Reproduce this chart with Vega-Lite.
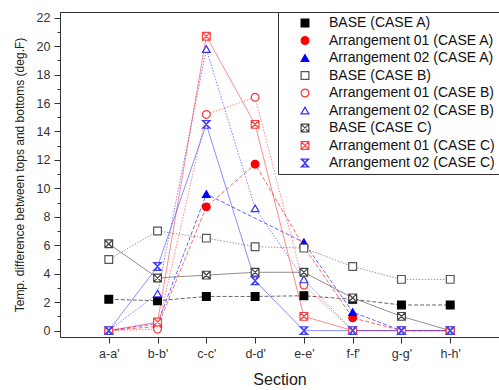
{
  "$schema": "https://vega.github.io/schema/vega-lite/v6.json",
  "width": 439,
  "height": 325,
  "autosize": "none",
  "padding": {"left": 60, "top": 12, "right": 0, "bottom": 53},
  "background": "white",
  "data": {
    "values": [
      {"section": "a-a'", "BASE (CASE A)": 2.2, "Arrangement 01 (CASE A)": 0.0, "Arrangement 02 (CASE A)": 0.0, "BASE (CASE B)": 5.0, "Arrangement 01 (CASE B)": 0.0, "Arrangement 02 (CASE B)": 0.0, "BASE (CASE C)": 6.1, "Arrangement 01 (CASE C)": 0.0, "Arrangement 02 (CASE C)": 0.0},
      {"section": "b-b'", "BASE (CASE A)": 2.1, "Arrangement 01 (CASE A)": 0.3, "Arrangement 02 (CASE A)": 0.5, "BASE (CASE B)": 7.0, "Arrangement 01 (CASE B)": 0.1, "Arrangement 02 (CASE B)": 2.6, "BASE (CASE C)": 3.7, "Arrangement 01 (CASE C)": 0.6, "Arrangement 02 (CASE C)": 4.5},
      {"section": "c-c'", "BASE (CASE A)": 2.4, "Arrangement 01 (CASE A)": 8.7, "Arrangement 02 (CASE A)": 9.6, "BASE (CASE B)": 6.5, "Arrangement 01 (CASE B)": 15.2, "Arrangement 02 (CASE B)": 19.8, "BASE (CASE C)": 3.9, "Arrangement 01 (CASE C)": 20.7, "Arrangement 02 (CASE C)": 14.5},
      {"section": "d-d'", "BASE (CASE A)": 2.4, "Arrangement 01 (CASE A)": 11.7, "Arrangement 02 (CASE A)": null, "BASE (CASE B)": 5.9, "Arrangement 01 (CASE B)": 16.4, "Arrangement 02 (CASE B)": 8.6, "BASE (CASE C)": 4.1, "Arrangement 01 (CASE C)": 14.5, "Arrangement 02 (CASE C)": 3.5},
      {"section": "e-e'", "BASE (CASE A)": 2.45, "Arrangement 01 (CASE A)": 5.9, "Arrangement 02 (CASE A)": 6.2, "BASE (CASE B)": 5.8, "Arrangement 01 (CASE B)": 3.2, "Arrangement 02 (CASE B)": 3.6, "BASE (CASE C)": 4.1, "Arrangement 01 (CASE C)": 1.0, "Arrangement 02 (CASE C)": 0.0},
      {"section": "f-f'", "BASE (CASE A)": 2.2, "Arrangement 01 (CASE A)": 0.9, "Arrangement 02 (CASE A)": 1.3, "BASE (CASE B)": 4.5, "Arrangement 01 (CASE B)": 0.0, "Arrangement 02 (CASE B)": 0.0, "BASE (CASE C)": 2.3, "Arrangement 01 (CASE C)": 0.0, "Arrangement 02 (CASE C)": 0.0},
      {"section": "g-g'", "BASE (CASE A)": 1.8, "Arrangement 01 (CASE A)": 0.0, "Arrangement 02 (CASE A)": 0.0, "BASE (CASE B)": 3.6, "Arrangement 01 (CASE B)": 0.0, "Arrangement 02 (CASE B)": 0.0, "BASE (CASE C)": 1.0, "Arrangement 01 (CASE C)": 0.0, "Arrangement 02 (CASE C)": 0.0},
      {"section": "h-h'", "BASE (CASE A)": 1.8, "Arrangement 01 (CASE A)": 0.0, "Arrangement 02 (CASE A)": 0.0, "BASE (CASE B)": 3.6, "Arrangement 01 (CASE B)": 0.0, "Arrangement 02 (CASE B)": 0.0, "BASE (CASE C)": 0.0, "Arrangement 01 (CASE C)": 0.0, "Arrangement 02 (CASE C)": 0.0}
    ]
  },
  "transform": [
    {"fold": ["BASE (CASE A)", "Arrangement 01 (CASE A)", "Arrangement 02 (CASE A)", "BASE (CASE B)", "Arrangement 01 (CASE B)", "Arrangement 02 (CASE B)", "BASE (CASE C)", "Arrangement 01 (CASE C)", "Arrangement 02 (CASE C)"], "as": ["series", "value"]},
    {"filter": "isValid(datum.value)"}
  ],
  "encoding": {
    "x": {
      "field": "section", "type": "ordinal",
      "sort": ["a-a'", "b-b'", "c-c'", "d-d'", "e-e'", "f-f'", "g-g'", "h-h'"],
      "scale": {"type": "point", "padding": 1},
      "axis": {"title": "Section", "labelAngle": 0, "tickSize": 6, "labelPadding": 4, "labelFontSize": 12.5, "titleFontSize": 16, "titleFontWeight": "normal", "titlePadding": 12, "grid": false}
    },
    "y": {
      "field": "value", "type": "quantitative",
      "scale": {"domain": [-0.45, 22.4], "nice": false, "zero": false},
      "axis": {
        "title": "Temp. difference between tops and bottoms (deg.F)",
        "values": [0,1,2,3,4,5,6,7,8,9,10,11,12,13,14,15,16,17,18,19,20,21,22],
        "labelExpr": "datum.value % 2 === 0 ? datum.label : ''",
        "tickSize": {"condition": {"test": "datum.value % 2 === 0", "value": 6}, "value": 3},
        "labelPadding": 4, "labelFontSize": 12.5, "titleFontSize": 12, "titleFontWeight": "normal", "titlePadding": 10, "grid": false
      }
    },
    "stroke": {
      "field": "series", "type": "nominal", "legend": {"title": null},
      "scale": {
        "domain": ["BASE (CASE A)", "Arrangement 01 (CASE A)", "Arrangement 02 (CASE A)", "BASE (CASE B)", "Arrangement 01 (CASE B)", "Arrangement 02 (CASE B)", "BASE (CASE C)", "Arrangement 01 (CASE C)", "Arrangement 02 (CASE C)"],
        "range": ["#000000", "#ff0000", "#0000ff", "#555555", "#ff3030", "#3030ff", "#444444", "#ff4040", "#4040ff"]
      }
    }
  },
  "layer": [
    {
      "transform": [{"filter": "indexof(datum.series, 'CASE A') >= 0"}],
      "mark": {"type": "line", "strokeWidth": 1, "opacity": 0.6, "strokeDash": [4, 2]},
      "encoding": {}
    },
    {
      "transform": [{"filter": "indexof(datum.series, 'CASE B') >= 0"}],
      "mark": {"type": "line", "strokeWidth": 1, "opacity": 0.6, "strokeDash": [1.5, 1.5]},
      "encoding": {}
    },
    {
      "transform": [{"filter": "indexof(datum.series, 'CASE C') >= 0"}],
      "mark": {"type": "line", "strokeWidth": 1, "opacity": 0.6},
      "encoding": {}
    },
    {
      "mark": {"type": "point", "size": 60, "strokeWidth": 1.2, "opacity": 1, "filled": true},
      "encoding": {
        "fill": {
          "field": "series", "type": "nominal", "legend": {"title": null},
          "scale": {
            "domain": ["BASE (CASE A)", "Arrangement 01 (CASE A)", "Arrangement 02 (CASE A)", "BASE (CASE B)", "Arrangement 01 (CASE B)", "Arrangement 02 (CASE B)", "BASE (CASE C)", "Arrangement 01 (CASE C)", "Arrangement 02 (CASE C)"],
            "range": ["#000000", "#ff0000", "#0000ff", "#ffffff", "#ffffff", "#ffffff", "#ffffff", "#ffffff", "#ffffff"]
          }
        },
        "shape": {
          "field": "series", "type": "nominal", "legend": {"title": null},
          "scale": {
            "domain": ["BASE (CASE A)", "Arrangement 01 (CASE A)", "Arrangement 02 (CASE A)", "BASE (CASE B)", "Arrangement 01 (CASE B)", "Arrangement 02 (CASE B)", "BASE (CASE C)", "Arrangement 01 (CASE C)", "Arrangement 02 (CASE C)"],
            "range": ["square", "circle", "triangle-up", "square", "circle", "triangle-up", "M-1,-1H1V1H-1Z M-1,-1L1,1 M1,-1L-1,1", "M-1,-1H1V1H-1Z M-1,-1L1,1 M1,-1L-1,1", "M-1,-1H1L-1,1H1Z M-0.6,-1L0.6,1 M0.6,-1L-0.6,1"]
          }
        }
      }
    }
  ],
  "config": {
    "font": "Liberation Sans",
    "view": {"stroke": "#333333", "strokeWidth": 1},
    "axis": {"domainColor": "#333333", "tickColor": "#333333", "labelColor": "#333333", "titleColor": "#222222", "labelFont": "Liberation Sans", "titleFont": "Liberation Sans"},
    "legend": {
      "orient": "top-right", "offset": 0, "strokeColor": "#333333", "fillColor": "white",
      "padding": 4, "rowPadding": 3.5, "labelFont": "Liberation Sans", "labelFontSize": 14, "labelColor": "#111111",
      "symbolSize": 60, "symbolStrokeWidth": 1.2, "symbolOpacity": 1, "labelOffset": 17, "symbolOffset": 16, "labelLimit": 300
    }
  }
}
